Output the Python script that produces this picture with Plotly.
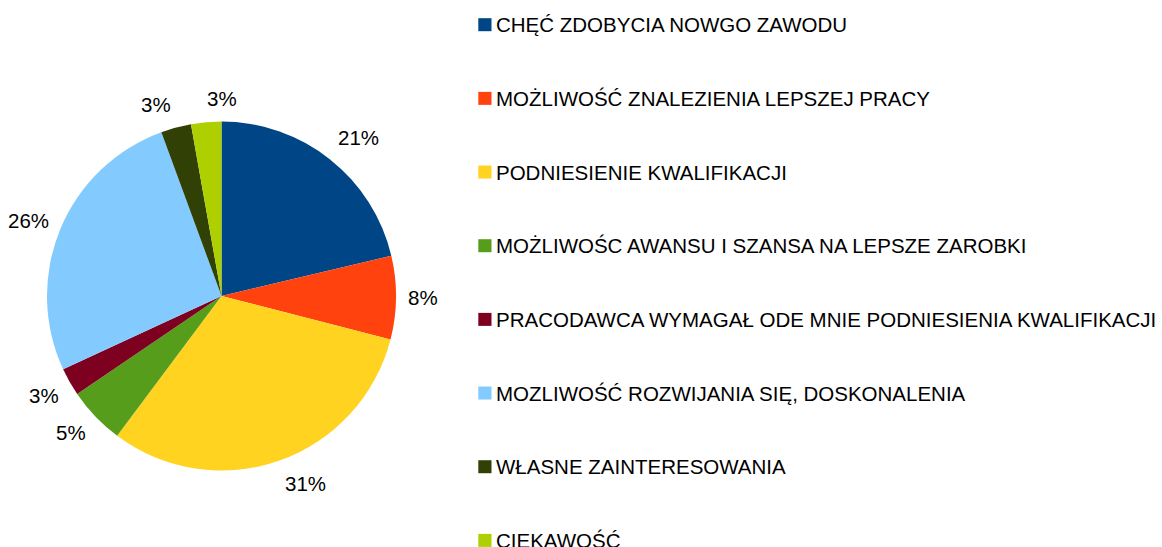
import math
import plotly.graph_objects as go

labels = [
    "CHĘĆ ZDOBYCIA NOWGO ZAWODU",
    "MOŻLIWOŚĆ ZNALEZIENIA LEPSZEJ PRACY",
    "PODNIESIENIE KWALIFIKACJI",
    "MOŻLIWOŚC AWANSU I SZANSA NA LEPSZE ZAROBKI",
    "PRACODAWCA WYMAGAŁ ODE MNIE PODNIESIENIA KWALIFIKACJI",
    "MOZLIWOŚĆ ROZWIJANIA SIĘ, DOSKONALENIA",
    "WŁASNE ZAINTERESOWANIA",
    "CIEKAWOŚĆ",
]
values = [21.3, 7.7, 31.2, 5.3, 2.6, 26.3, 2.8, 2.8]
colors = ["#004586", "#ff420e", "#ffd320", "#579d1c", "#7e0021", "#83caff", "#314004", "#aecf00"]

W, H = 1162, 547
FONT = "Liberation Sans, Arial, sans-serif"
FS = 20.5

# pie geometry (pixels)
CX, CY, R = 221.5, 296.0, 174.5
GAP = 10

fig = go.Figure()
fig.add_trace(go.Pie(
    labels=labels,
    values=values,
    sort=False,
    direction="clockwise",
    rotation=0,
    marker=dict(colors=colors, line=dict(width=0)),
    textinfo="none",
    domain=dict(x=[(CX - R) / W, (CX + R) / W], y=[1 - (CY + R) / H, 1 - (CY - R) / H]),
    showlegend=False,
    hoverinfo="label+percent",
))

shapes, annotations = [], []

# percentage labels placed outside each slice (box corner anchored at the radial point)
total = sum(values)
cum = 0.0
prev = None
for v in values:
    mid = (cum + v / 2) / total * 2 * math.pi
    cum += v
    txt = f"{round(v / total * 100)}%"
    s, c = math.sin(mid), math.cos(mid)
    px, py = CX + (R + GAP) * s, CY - (R + GAP) * c
    xa = "left" if s >= 0 else "right"
    from_horiz = math.degrees(math.asin(min(1.0, abs(c))))
    if from_horiz < 26:
        ya = "middle"
    else:
        ya = "bottom" if c > 0 else "top"
    # near the top, avoid overlap of neighbouring small labels
    if (prev is not None and c > 0.9 and xa == "right" and prev[0] == "right"
            and prev[1] == "bottom" and abs(px - prev[2]) < 35):
        xa = "left"
    prev = (xa, ya, px)
    annotations.append(dict(
        xref="paper", yref="paper", x=px / W, y=1 - py / H,
        xanchor=xa, yanchor=ya, text=txt, showarrow=False,
        yshift=5 if (s < 0 and ya != "bottom") else 0,
        font=dict(family=FONT, size=FS, color="#000000"),
    ))

# legend
row0, step = 24.7, 73.67
for i, (lab, col) in enumerate(zip(labels, colors)):
    cy = row0 + i * step
    shapes.append(dict(
        type="rect", xref="paper", yref="paper",
        x0=478.3 / W, x1=491.5 / W,
        y0=1 - (cy + 6.5) / H, y1=1 - (cy - 6.5) / H,
        fillcolor=col, line=dict(width=0),
    ))
    annotations.append(dict(
        xref="paper", yref="paper", x=494 / W, y=1 - cy / H,
        xanchor="left", yanchor="middle", text=lab, showarrow=False,
        font=dict(family=FONT, size=FS, color="#000000"),
    ))

fig.update_layout(
    width=W, height=H,
    margin=dict(l=0, r=0, t=0, b=0),
    paper_bgcolor="#ffffff",
    plot_bgcolor="#ffffff",
    shapes=shapes,
    annotations=annotations,
)

fig.write_html(
    "out.html",
    config={"displayModeBar": False},
    post_script="document.body.style.margin='0';document.body.style.overflow='hidden';",
)
